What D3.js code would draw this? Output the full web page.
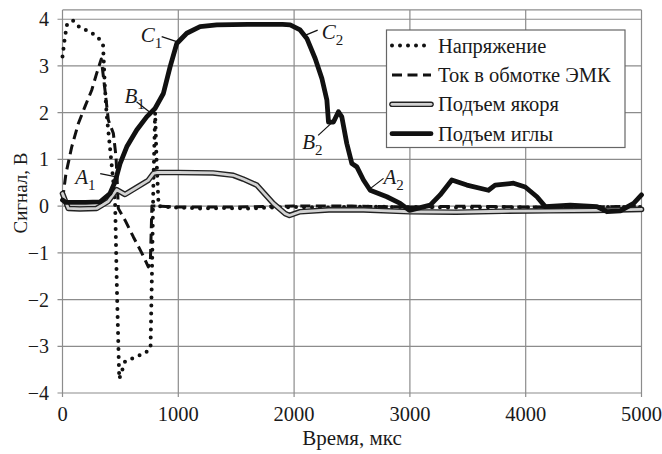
<!DOCTYPE html>
<html>
<head>
<meta charset="utf-8">
<script src="https://cdn.jsdelivr.net/npm/d3@7/dist/d3.min.js"></script>
<style>
  body { margin: 0; background: #fff; }
  svg text { font-family: "Liberation Serif", "Times New Roman", "DejaVu Serif", serif; fill: #1a1a1a; }
</style>
</head>
<body>
<div id="chart"></div>
<script>
// axis ticks
const xTicks = [0, 1000, 2000, 3000, 4000, 5000];
const yTicks = [-4, -3, -2, -1, 0, 1, 2, 3, 4];

// Напряжение (dotted)
const voltageT = [0, 20, 40, 90, 150, 240, 310, 350, 365, 380, 400, 420, 440, 455, 470, 490, 540, 630, 710, 760, 772, 785, 800, 812, 830, 900, 1000, 1200, 1400, 1600, 1800, 2000, 2300, 2600, 3000, 3400, 3800, 4200, 4600, 5000];
const voltage = [3.2, 3.6, 3.9, 3.97, 3.82, 3.73, 3.6, 3.45, 2.6, 2.0, 1.5, 1.0, 0.5, 0.0, -1.8, -3.7, -3.33, -3.23, -3.15, -3.05, -1.5, 0.5, 2.0, 1.0, 0.0, -0.02, -0.03, -0.05, -0.04, -0.05, -0.03, -0.02, -0.03, -0.01, -0.02, -0.03, -0.02, -0.03, -0.02, -0.02];

// Ток в обмотке ЭМК (dashed)
const currentT = [0, 30, 80, 137, 194, 252, 295, 335, 367, 396, 439, 462, 472, 482, 540, 612, 684, 741, 758, 772, 800, 1000, 1500, 2000, 2500, 3000, 3500, 4000, 4500, 5000];
const current = [0.13, 0.7, 1.27, 1.77, 2.13, 2.48, 2.84, 3.15, 2.48, 1.84, 1.56, 1.06, 0.56, -0.05, -0.3, -0.66, -1.0, -1.3, -1.25, 0.0, 0.0, -0.02, -0.02, 0.0, 0.0, -0.02, 0.0, -0.02, -0.02, 0.0];

// Подъем якоря (double line)
const armatureT = [0, 50, 150, 295, 395, 468, 540, 640, 740, 785, 820, 1000, 1300, 1475, 1560, 1678, 1820, 1923, 1960, 2052, 2300, 2600, 3000, 3400, 3800, 4200, 4600, 5000];
const armature = [0.27, -0.05, -0.06, -0.05, 0.1, 0.35, 0.25, 0.4, 0.55, 0.7, 0.72, 0.72, 0.71, 0.66, 0.58, 0.45, 0.06, -0.16, -0.2, -0.12, -0.08, -0.08, -0.12, -0.13, -0.11, -0.1, -0.09, -0.07];

// Подъем иглы (thick)
const needleT = [0, 30, 200, 325, 410, 454, 497, 555, 641, 727, 799, 871, 929, 987, 1073, 1188, 1332, 1600, 1900, 1966, 2052, 2110, 2182, 2240, 2283, 2297, 2340, 2383, 2412, 2455, 2499, 2542, 2599, 2657, 2801, 2916, 2996, 3175, 3261, 3362, 3492, 3678, 3736, 3895, 3996, 4097, 4169, 4385, 4615, 4702, 4817, 4932, 5000];
const needle = [0.13, 0.08, 0.08, 0.09, 0.27, 0.52, 0.91, 1.27, 1.63, 1.91, 2.09, 2.41, 2.98, 3.48, 3.7, 3.84, 3.88, 3.89, 3.89, 3.88, 3.77, 3.59, 3.16, 2.73, 2.27, 1.8, 1.8, 2.02, 1.91, 1.34, 0.91, 0.84, 0.56, 0.34, 0.2, 0.06, -0.09, 0.02, 0.24, 0.56, 0.45, 0.34, 0.45, 0.49, 0.41, 0.2, -0.01, 0.02, -0.01, -0.12, -0.1, 0.06, 0.24];

// legend labels
const legendLabels = ['Напряжение', 'Ток в обмотке ЭМК', 'Подъем якоря', 'Подъем иглы'];

// point labels: letter, index, anchor on the needle curve (time, value)
const marks = [
  { letter: 'C', sub: '1', t: 986, v: 3.52 },
  { letter: 'B', sub: '1', t: 760, v: 2.0 },
  { letter: 'A', sub: '1', t: 455, v: 0.63 },
  { letter: 'C', sub: '2', t: 2100, v: 3.66 },
  { letter: 'B', sub: '2', t: 2320, v: 1.77 },
  { letter: 'A', sub: '2', t: 2660, v: 0.38 }
];

const width = 662, height = 454;
const svg = d3.select('#chart').append('svg')
  .attr('width', width).attr('height', height)
  .attr('font-family', '"Liberation Serif", "Times New Roman", serif');

// scales
const x = d3.scaleLinear().domain([0, 5000]).range([62.5, 641.5]);
const y = d3.scaleLinear().domain([-4, 4.2]).range([393, 9.9]);

const gridColor = '#8c8c8c';

// grid lines
svg.append('g').selectAll('line').data(xTicks).join('line')
  .attr('x1', d => x(d)).attr('x2', d => x(d))
  .attr('y1', y(4.2)).attr('y2', y(-4) + 4)
  .attr('stroke', gridColor).attr('stroke-width', 1.2);
svg.append('g').selectAll('line').data(yTicks).join('line')
  .attr('x1', x(0) - 5).attr('x2', x(5000))
  .attr('y1', d => y(d)).attr('y2', d => y(d))
  .attr('stroke', gridColor).attr('stroke-width', 1.2);
// top frame
svg.append('line')
  .attr('x1', x(0)).attr('x2', x(5000)).attr('y1', y(4.2)).attr('y2', y(4.2))
  .attr('stroke', gridColor).attr('stroke-width', 1.2);

// axes labels
svg.append('g').selectAll('text').data(xTicks).join('text')
  .attr('x', d => x(d)).attr('y', 421)
  .attr('text-anchor', 'middle').style('font-size', '20.5px')
  .text(d => d);
svg.append('g').selectAll('text').data(yTicks).join('text')
  .attr('x', 49).attr('y', d => y(d)).attr('dy', '0.35em')
  .attr('text-anchor', 'end').style('font-size', '20px')
  .text(d => d < 0 ? '\u2212' + Math.abs(d) : d);

svg.append('text')
  .attr('x', x(2500)).attr('y', 445)
  .attr('text-anchor', 'middle').style('font-size', '21px')
  .text('Время, мкс');
svg.append('text')
  .attr('transform', 'translate(27, 193) rotate(-90)')
  .attr('text-anchor', 'middle').style('font-size', '19px')
  .text('Сигнал, В');

// series
function pts(ts, vs) { return ts.map((t, i) => [t, vs[i]]); }
const line = d3.line().x(d => x(d[0])).y(d => y(d[1]));

const series = [
  { data: pts(voltageT, voltage), layers: [{ w: 4, c: '#111', dash: '0 8', cap: 'round' }] },
  { data: pts(currentT, current), layers: [{ w: 3, c: '#111', dash: '10 5.5', cap: 'butt' }] },
  { data: pts(armatureT, armature), layers: [{ w: 5.6, c: '#222', cap: 'round' }, { w: 2.8, c: '#d2d2d2', cap: 'round' }] },
  { data: pts(needleT, needle), layers: [{ w: 4.8, c: '#111', cap: 'round' }] }
];

series.forEach(function (s) {
  s.layers.forEach(function (l) {
    svg.append('path')
      .datum(s.data)
      .attr('d', line)
      .attr('fill', 'none')
      .attr('stroke', l.c)
      .attr('stroke-width', l.w)
      .attr('stroke-linecap', l.cap)
      .attr('stroke-linejoin', 'round')
      .attr('stroke-dasharray', l.dash || null);
  });
});

// point labels with leader lines
const markOffsets = [
  { lx: -15, ly: -5, tx: -36, ty: 0 },
  { lx: -14, ly: -11, tx: -26, ty: -10 },
  { lx: -15, ly: -3, tx: -40, ty: 7 },
  { lx: 12, ly: -5, tx: 16, ty: 4 },
  { lx: -13, ly: 12, tx: -29, ty: 26 },
  { lx: 13, ly: -10, tx: 13, ty: -4 }
];
marks.forEach(function (m, i) {
  const o = markOffsets[i];
  const px = x(m.t), py = y(m.v);
  svg.append('line')
    .attr('x1', px).attr('y1', py)
    .attr('x2', px + o.lx).attr('y2', py + o.ly)
    .attr('stroke', '#111').attr('stroke-width', 1.2);
  const t = svg.append('text')
    .attr('x', px + o.tx).attr('y', py + o.ty)
    .style('font-size', '21px');
  t.append('tspan').style('font-style', 'italic').text(m.letter);
  t.append('tspan').attr('dy', 6).style('font-size', '15px').text(m.sub);
});

// legend
const lg = svg.append('g');
lg.append('rect')
  .attr('x', 386.5).attr('y', 30).attr('width', 238.5).attr('height', 117.5)
  .attr('fill', '#fff').attr('stroke', '#666').attr('stroke-width', 1.2);
legendLabels.forEach(function (lab, i) {
  const cy = 45.5 + i * 29.4;
  series[i].layers.forEach(function (l) {
    lg.append('line')
      .attr('x1', 392).attr('x2', 431).attr('y1', cy).attr('y2', cy)
      .attr('stroke', l.c).attr('stroke-width', l.w)
      .attr('stroke-linecap', l.cap)
      .attr('stroke-dasharray', l.dash || null);
  });
  lg.append('text')
    .attr('x', 438).attr('y', cy).attr('dy', '0.35em')
    .style('font-size', '20.5px')
    .text(lab);
});
</script>
</body>
</html>
